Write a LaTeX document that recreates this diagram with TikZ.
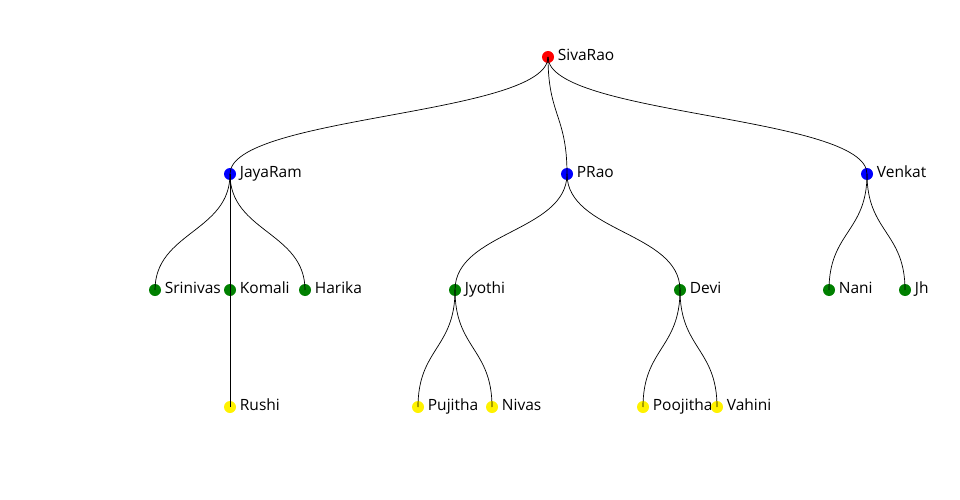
\documentclass[tikz,border=0pt]{standalone}
\usepackage{fontspec}
\setmainfont{Open Sans}
\definecolor{webgreen}{RGB}{0,128,0}
\tikzset{
  member/.style={circle, fill=#1, inner sep=0pt, minimum size=12pt,
    label={[tag]right:\membername}},
  tag/.style={font=\fontsize{15.5}{18}\selectfont, inner sep=0pt, label distance=3.5pt,
    text height=11pt, text depth=3.5pt},
  link/.style={draw, black, line width=0.7pt}
}
\begin{document}
\begin{tikzpicture}[x=1pt, y=-1pt]
    \useasboundingbox (0,0) rectangle (960,500);

    % Root
    \def\membername{SivaRao}
    \node[member=red] (sivarao) at (548,57) {};

    % Children
    \foreach \id/\membername/\x in {jayaram/JayaRam/230, prao/PRao/567, venkat/Venkat/867}
        \node[member=blue] (\id) at (\x,174) {};
    \foreach \c in {jayaram, prao, venkat}
        \draw[link] (sivarao.center) .. controls +(0,58.5) and +(0,-58.5) .. (\c.center);

    % Grandchildren
    \foreach \id/\membername/\x in {srinivas/Srinivas/155, komali/Komali/230, harika/Harika/305,
        jyothi/Jyothi/455, devi/Devi/680, nani/Nani/829, jh/Jh/905}
        \node[member=webgreen] (\id) at (\x,290) {};
    \foreach \p/\c in {jayaram/srinivas, jayaram/komali, jayaram/harika, prao/jyothi,
        prao/devi, venkat/nani, venkat/jh}
        \draw[link] (\p.center) .. controls +(0,58) and +(0,-58) .. (\c.center);

    % Great-grandchildren
    \foreach \id/\membername/\x in {rushi/Rushi/230, pujitha/Pujitha/418, nivas/Nivas/492,
        poojitha/Poojitha/643, vahini/Vahini/717}
        \node[member=yellow] (\id) at (\x,407) {};
    \foreach \p/\c in {komali/rushi, jyothi/pujitha, jyothi/nivas, devi/poojitha, devi/vahini}
        \draw[link] (\p.center) .. controls +(0,58.5) and +(0,-58.5) .. (\c.center);
\end{tikzpicture}
\end{document}
